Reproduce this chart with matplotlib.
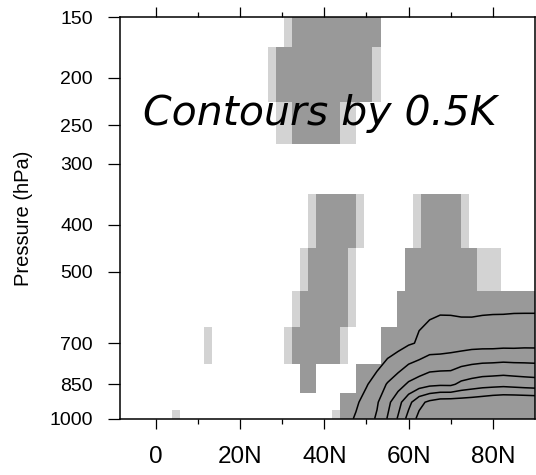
import numpy as np
import matplotlib
matplotlib.use("Agg")
import matplotlib.pyplot as plt
from matplotlib.colors import ListedColormap, BoundaryNorm
from matplotlib.ticker import FixedLocator, NullLocator

# ---------------- data ----------------
# model pressure levels (hPa)
levels_hpa = [1000, 925, 850, 700, 600, 500, 400, 300, 250, 200, 150, 100]

# significance shading: (level, lat_from, lat_to) ranges of grid cells
light_cells = [
    (150, 30.5, 32.4),
    (200, 26.7, 28.6), (200, 51.4, 53.3),
    (250, 28.6, 32.4), (250, 43.8, 47.6),
    (400, 36.2, 38.1), (400, 47.6, 49.5), (400, 61.0, 62.9), (400, 72.4, 74.3),
    (500, 34.3, 36.2), (500, 45.7, 47.6), (500, 76.2, 81.9),
    (600, 32.4, 34.3), (600, 45.7, 47.6),
    (700, 11.4, 13.3), (700, 30.5, 32.4), (700, 43.8, 45.7),
    (1000, 3.8, 5.7), (1000, 41.9, 43.8),
]
dark_cells = [
    (150, 32.4, 53.3),
    (200, 28.6, 51.4),
    (250, 32.4, 43.8),
    (400, 38.1, 47.6), (400, 62.9, 72.4),
    (500, 36.2, 45.7), (500, 59.0, 76.2),
    (600, 34.3, 45.7), (600, 57.1, 90.0),
    (700, 32.4, 43.8), (700, 53.3, 90.0),
    (850, 34.3, 38.1), (850, 47.6, 90.0),
    (925, 43.8, 90.0),
    (1000, 43.8, 90.0),
]

# contoured field (K)
field_lat = [40, 42.5, 45, 47.5, 50, 52.5, 55, 57.5, 60, 62.5, 65,
             67.5, 70, 72.5, 75, 77.5, 80, 82.5, 85, 87.5, 90]
field_p = [1000, 925, 850, 700, 600, 500, 400]
field_1000 = [0, 0.10, 0.32, 0.56, 0.79, 1.06, 1.53, 2.05, 2.68, 3.14, 3.35,
              3.40, 3.40, 3.40, 3.40, 3.40, 3.43, 3.45, 3.45, 3.45, 3.45]
field_925 = [0, 0.05, 0.20, 0.42, 0.70, 0.95, 1.37, 1.83, 2.35, 2.86, 3.11,
             3.25, 3.27, 3.27, 3.30, 3.35, 3.43, 3.47, 3.48, 3.47, 3.45]
field_850 = [0, 0, 0.10, 0.30, 0.46, 0.74, 1.04, 1.29, 1.58, 1.75, 1.88,
             1.92, 1.91, 2.12, 2.22, 2.30, 2.33, 2.36, 2.32, 2.28, 2.25]
field_700 = [0, 0, 0, 0, 0, 0.03, 0.21, 0.32, 0.45, 0.54, 0.69,
             0.70, 0.75, 0.76, 0.80, 0.81, 0.81, 0.83, 0.83, 0.85, 0.85]
field_600 = [0, 0, 0, 0, 0, 0, 0.10, 0.20, 0.35, 0.44, 0.43,
             0.47, 0.46, 0.44, 0.43, 0.45, 0.46, 0.46, 0.47, 0.47, 0.47]
field_500 = [0, 0, 0, 0, 0, 0, 0.05, 0.10, 0.20, 0.25, 0.30,
             0.30, 0.30, 0.30, 0.30, 0.30, 0.30, 0.30, 0.30, 0.30, 0.30]
field_400 = [0, 0, 0, 0, 0, 0, 0, 0, 0.05, 0.10, 0.10,
             0.10, 0.10, 0.10, 0.10, 0.10, 0.10, 0.10, 0.10, 0.10, 0.10]
contour_levels = [0.5, 1.0, 1.5, 2.0, 2.5, 3.0]

ytick_vals = [1000, 850, 700, 500, 400, 300, 250, 200, 150]
xtick_vals = [0, 20, 40, 60, 80]
xtick_labels = ["0", "20N", "40N", "60N", "80N"]
annotation = "Contours by 0.5K"
ylabel = "Pressure (hPa)"

# ---------------- grid ----------------
# T62 Gaussian latitudes
nodes, _ = np.polynomial.legendre.leggauss(94)
lat = np.degrees(np.arcsin(nodes))
lat_edges = np.concatenate(([-90.0], 0.5 * (lat[1:] + lat[:-1]), [90.0]))

plev = np.array(levels_hpa, dtype=float)
lp = np.log(plev)
mid = 0.5 * (lp[1:] + lp[:-1])
p_edges = np.exp(np.concatenate(([lp[0] + (lp[0] - mid[0])], mid,
                                 [lp[-1] + (lp[-1] - mid[-1])])))

sig = np.zeros((len(plev), len(lat)))
for cat, cells in ((1, light_cells), (2, dark_cells)):
    for lev, a, b in cells:
        i = levels_hpa.index(lev)
        sig[i, (lat > a) & (lat < b)] = cat
sig = np.ma.masked_equal(sig, 0)

field = np.array([field_1000, field_925, field_850, field_700,
                  field_600, field_500, field_400])

# ---------------- plot ----------------
fig = plt.figure(figsize=(5.36, 4.75), dpi=100)
ax = fig.add_axes([120 / 536, 1 - 418.7 / 475, 415 / 536, 401.7 / 475])

cmap = ListedColormap(["#d3d3d3", "#999999"])
norm = BoundaryNorm([0.5, 1.5, 2.5], cmap.N)
ax.pcolormesh(lat_edges, p_edges, sig, cmap=cmap, norm=norm, shading="flat")

ax.contour(field_lat, field_p, field, levels=contour_levels,
           colors="black", linewidths=1.1, linestyles="solid")

ax.set_yscale("log")
ax.set_ylim(1000, 150)
ax.set_xlim(-8.5, 90)

ax.yaxis.set_major_locator(FixedLocator(ytick_vals))
ax.yaxis.set_minor_locator(NullLocator())
ax.set_yticklabels([str(v) for v in ytick_vals])
ax.xaxis.set_major_locator(FixedLocator(xtick_vals))
ax.xaxis.set_minor_locator(FixedLocator([10, 30, 50, 70]))
ax.set_xticklabels(xtick_labels)

ax.tick_params(axis="y", which="major", direction="out", length=8.5,
               width=0.9, pad=11, labelsize=14, left=True, right=False)
ax.tick_params(axis="x", which="major", direction="out", length=7.5,
               width=0.9, pad=12, labelsize=17.5, top=True, bottom=True)
ax.tick_params(axis="x", which="minor", direction="out", length=3.8,
               width=0.9, top=True, bottom=True)
for lab in ax.get_xticklabels() + ax.get_yticklabels():
    lab.set_family("Liberation Sans")
for s in ax.spines.values():
    s.set_linewidth(1.1)

ax.set_ylabel(ylabel, fontsize=14.5, family="Liberation Sans", labelpad=12)
ax.text(0.055, 0.73, annotation, transform=ax.transAxes, fontsize=29.5,
        fontstyle="italic", family="DejaVu Sans", va="baseline", ha="left")

fig.savefig("out.png", dpi=100)
